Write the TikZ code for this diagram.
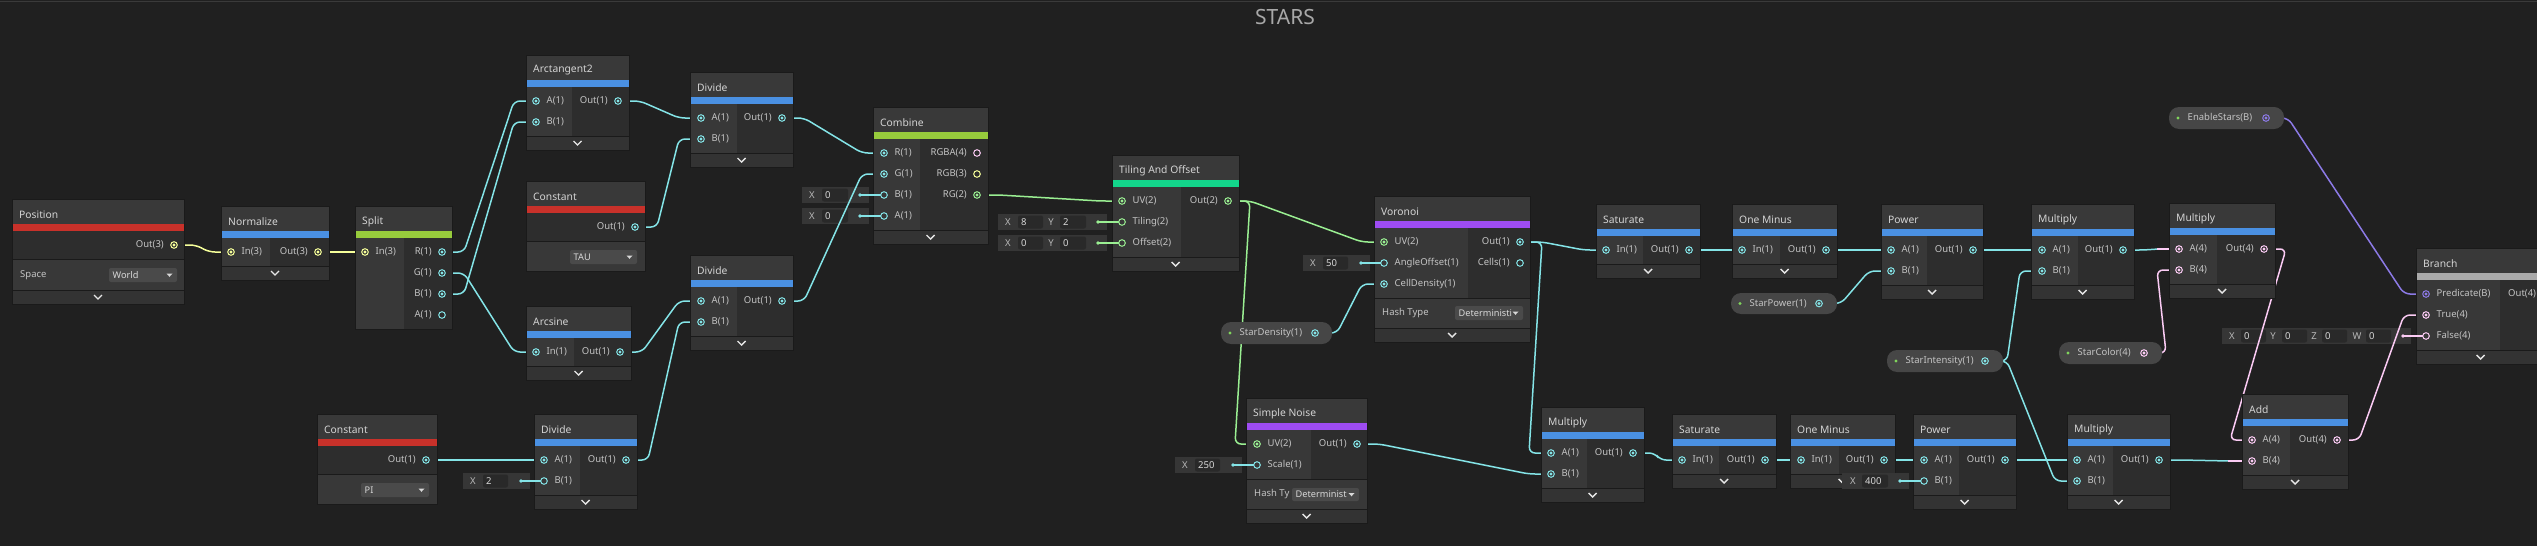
\documentclass[tikz,border=0pt]{standalone}
\usepackage{fontspec}
\setmainfont{Noto Sans}
\usetikzlibrary{calc}
\definecolor{bgc}{HTML}{202020}
\definecolor{topl}{HTML}{3A3A3A}
\definecolor{hdrc}{HTML}{393939}
\definecolor{inc}{HTML}{383838}
\definecolor{outc}{HTML}{2D2D2D}
\definecolor{setc}{HTML}{383838}
\definecolor{chevc}{HTML}{333333}
\definecolor{edgec}{HTML}{1A1A1A}
\definecolor{chevg}{HTML}{E6E6E6}
\definecolor{lblc}{HTML}{C4C4C4}
\definecolor{ttlc}{HTML}{D4D4D4}
\definecolor{starc}{HTML}{A8A8A8}
\definecolor{redb}{HTML}{C8312A}
\definecolor{blueb}{HTML}{4A90E2}
\definecolor{greenb}{HTML}{97CB3C}
\definecolor{tealb}{HTML}{13D58B}
\definecolor{purpb}{HTML}{9E4CF2}
\definecolor{grayb}{HTML}{AAAAAA}
\definecolor{cyanw}{HTML}{84E4E7}
\definecolor{greenw}{HTML}{9AEF92}
\definecolor{yelw}{HTML}{F6FF9A}
\definecolor{pinkw}{HTML}{FBCBF4}
\definecolor{purplew}{HTML}{8C7AE6}
\definecolor{pillc}{HTML}{464646}
\definecolor{dotg}{HTML}{80D45C}
\definecolor{fieldc}{HTML}{363636}
\definecolor{boxc}{HTML}{292929}
\definecolor{dropc}{HTML}{4A4A4A}
\definecolor{dropt}{HTML}{D8D8D8}
\definecolor{flblc}{HTML}{B8B8B8}
\pgfdeclarelayer{bgl}
\pgfdeclarelayer{fl}
\pgfdeclarelayer{wl}
\pgfdeclarelayer{tl}
\pgfsetlayers{bgl,fl,wl,main,tl}
\newcount\ssN
\tikzset{
  wire/.style={line width=1.5pt, rounded corners=6pt},
  plbl/.style={text=lblc, font=\fontsize{9.5}{11}\selectfont, inner sep=0pt},
  ttl/.style={text=ttlc, font=\fontsize{10.3}{12}\selectfont, inner sep=0pt},
  flbl/.style={text=flblc, font=\fontsize{9.5}{11}\selectfont, inner sep=0pt},
  fval/.style={text=dropt, font=\fontsize{9.5}{11}\selectfont, inner sep=0pt},
  nodeline/.style={draw=edgec, line width=0.8pt},
  sepline/.style={draw=edgec, line width=0.6pt},
  chevline/.style={draw=chevg, line width=1.4pt},
}
% title, bar colour, left, right, top, divider x, rows, settings height, chevron height
\newcommand\ssNode[9]{%
  \pgfmathsetmacro\ssPB{#5+39+21*#7}%
  \pgfmathsetmacro\ssSB{\ssPB+#8}%
  \pgfmathsetmacro\ssCB{\ssSB+#9}%
  \pgfmathsetmacro\ssMX{(#3+#4)/2}%
  \pgfmathsetmacro\ssMY{(\ssSB+\ssCB)/2}%
  \fill[hdrc] (#3,#5) rectangle (#4,#5+24.5);
  \fill[#2] (#3,#5+24.5) rectangle (#4,#5+31.5);
  \fill[outc] (#3,#5+31.5) rectangle (#4,\ssPB);
  \ifdim #6pt>0pt \fill[inc] (#3,#5+31.5) rectangle (#6,\ssPB);\fi
  \ifdim #8pt>0pt \fill[setc] (#3,\ssPB) rectangle (#4,\ssSB);
     \draw[sepline] (#3,\ssPB) -- (#4,\ssPB);\fi
  \ifdim #9pt>0pt \fill[chevc] (#3,\ssSB) rectangle (#4,\ssCB);
     \draw[sepline] (#3,\ssSB) -- (#4,\ssSB);
     \draw[chevline] (\ssMX-4,\ssMY-2) -- (\ssMX,\ssMY+2) -- (\ssMX+4,\ssMY-2);\fi
  \draw[nodeline] (#3,#5) rectangle (#4,\ssCB);
  \global\advance\ssN by 1
  \node[ttl,anchor=west] (title\the\ssN) at (#3+7,#5+15.5) {#1};
}
\newcommand\ssPort[4]{%
  \draw[#3,line width=1pt] (#1,#2) circle[radius=3.3pt];
  \ifx c#4\fill[#3] (#1,#2) circle[radius=1.6pt];\fi}
\newcommand\ssIn[6]{%
  \coordinate (#1) at (#2,#3);
  \node[plbl,anchor=west] (#1L) at (#2+10.5,#3) {#5};
  \ssPort{#2}{#3}{#4}{#6}}
\newcommand\ssOut[6]{%
  \coordinate (#1) at (#2,#3);
  \node[plbl,anchor=east] (#1L) at (#2-10,#3) {#5};
  \ssPort{#2}{#3}{#4}{#6}}
% name, x1, y1, x2, y2, text, port x, colour
\newcommand\ssPill[8]{%
  \fill[pillc, rounded corners=10pt] (#2,#3) rectangle (#4,#5);
  \pgfmathsetmacro\ssPY{(#3+#5)/2}%
  \fill[dotg] (#2+9,\ssPY) circle[radius=1.7pt];
  \node[plbl,anchor=west] (#1L) at (#2+18.5,\ssPY) {#6};
  \coordinate (#1) at (#7,\ssPY);
  \ssPort{#7}{\ssPY}{#8}{c}}
\newcommand\ssField[3]{\fill[fieldc] (#1,#2-8) rectangle (#3,#2+8);}
% label x, box x1, box x2, y, label, value
\newcommand\ssEnt[6]{%
  \global\advance\ssN by 1
  \node[flbl] (fl\the\ssN) at (#1,#4) {#5};
  \fill[boxc, rounded corners=2pt] (#2,#4-6.5) rectangle (#3,#4+6.5);
  \node[fval,anchor=west] (fv\the\ssN) at (#2+3,#4) {#6};}
% dot x, y, colour, port
\newcommand\ssDot[4]{%
  \fill[#3] (#1,#2) circle[radius=1.8pt];
  \draw[#3,line width=1.6pt] (#1,#2) -- ($(#4)+(-3.3,0)$);}
\newcommand\ssDrop[5]{%
  \fill[dropc,rounded corners=2pt] (#1,#2) rectangle (#3,#4);
  \pgfmathsetmacro\ssDY{(#2+#4)/2}%
  \global\advance\ssN by 1
  \node[plbl,anchor=west,text=dropt,font=\fontsize{9.2}{11}\selectfont] (dd\the\ssN) at (#1+3.5,\ssDY) {#5};
  \fill[dropt] (#3-10.5,\ssDY-1.5) -- (#3-4.5,\ssDY-1.5) -- (#3-7.5,\ssDY+1.8) -- cycle;}
\newcommand\ssWire[3]{\draw[wire,#1] (#2) -- ++(22,0) -- ($(#3)+(-22,0)$) -- (#3);}

\begin{document}
\begin{tikzpicture}[x=1pt,y=-1pt]
\useasboundingbox (0,0) rectangle (2537,546);
\begin{pgfonlayer}{bgl}
  \fill[bgc] (0,0) rectangle (2537,546);
  \draw[topl,line width=1.6pt] (0,1.5) -- (2537,1.5);
\end{pgfonlayer}
\node[font=\fontsize{21}{24}\selectfont, text=starc, inner sep=0pt] (stars) at (1285,17) {STARS};

% ---------------- nodes ----------------
\ssNode{Position}{redb}{12}{184}{199}{0}{1}{31}{14}
\ssOut{posOut}{174}{245}{yelw}{Out(3)}{c}
\node[plbl,anchor=west] (posSpace) at (20,275) {Space};
\ssDrop{109}{268}{177}{282}{World}

\ssNode{Normalize}{blueb}{221}{329}{206}{270}{1}{0}{14}
\ssIn{normIn}{231}{252}{yelw}{In(3)}{c}
\ssOut{normOut}{318}{252}{yelw}{Out(3)}{c}

\ssNode{Split}{greenb}{355}{452}{206}{404}{4}{0}{0}
\ssIn{splitIn}{365}{252}{yelw}{In(3)}{c}
\ssOut{splitR}{442}{252}{cyanw}{R(1)}{c}
\ssOut{splitG}{442}{273}{cyanw}{G(1)}{c}
\ssOut{splitB}{442}{294}{cyanw}{B(1)}{c}
\ssOut{splitA}{442}{315}{cyanw}{A(1)}{h}

\ssNode{Constant}{redb}{317}{437}{414}{0}{1}{30}{0}
\ssOut{piOut}{426}{460}{cyanw}{Out(1)}{c}
\ssDrop{361}{483}{429}{497}{PI}

\ssNode{Arctangent2}{blueb}{526}{629}{55}{572}{2}{0}{14}
\ssIn{atanA}{536}{101}{cyanw}{A(1)}{c}
\ssIn{atanB}{536}{122}{cyanw}{B(1)}{c}
\ssOut{atanOut}{618}{101}{cyanw}{Out(1)}{c}

\ssNode{Constant}{redb}{526}{645}{181}{0}{1}{30}{0}
\ssOut{tauOut}{635}{227}{cyanw}{Out(1)}{c}
\ssDrop{570}{250}{637}{264}{TAU}

\ssNode{Arcsine}{blueb}{526}{631}{306}{574}{1}{0}{14}
\ssIn{asinIn}{536}{352}{cyanw}{In(1)}{c}
\ssOut{asinOut}{620}{352}{cyanw}{Out(1)}{c}

\ssNode{Divide}{blueb}{690}{793}{72}{737}{2}{0}{14}
\ssIn{divaA}{701}{118}{cyanw}{A(1)}{c}
\ssIn{divaB}{701}{139}{cyanw}{B(1)}{c}
\ssOut{divaOut}{782}{118}{cyanw}{Out(1)}{c}

\ssNode{Divide}{blueb}{690}{793}{255}{737}{2}{0}{14}
\ssIn{divbA}{701}{301}{cyanw}{A(1)}{c}
\ssIn{divbB}{701}{322}{cyanw}{B(1)}{c}
\ssOut{divbOut}{782}{301}{cyanw}{Out(1)}{c}

\ssNode{Divide}{blueb}{534}{637}{414}{580}{2}{0}{14}
\ssIn{divcA}{544}{460}{cyanw}{A(1)}{c}
\ssIn{divcB}{544}{481}{cyanw}{B(1)}{h}
\ssOut{divcOut}{626}{460}{cyanw}{Out(1)}{c}

\ssNode{Combine}{greenb}{873}{988}{107}{920}{4}{0}{14}
\ssIn{combR}{884}{153}{cyanw}{R(1)}{c}
\ssIn{combG}{884}{174}{cyanw}{G(1)}{c}
\ssIn{combB}{884}{195}{cyanw}{B(1)}{h}
\ssIn{combA}{884}{216}{cyanw}{A(1)}{h}
\ssOut{combRGBA}{977}{153}{pinkw}{RGBA(4)}{h}
\ssOut{combRGB}{977}{174}{yelw}{RGB(3)}{h}
\ssOut{combRG}{977}{195}{greenw}{RG(2)}{c}

\ssNode{Tiling And Offset}{tealb}{1112}{1239}{155}{1181}{3}{0}{14}
\ssIn{tileUV}{1122}{201}{greenw}{UV(2)}{c}
\ssIn{tileT}{1122}{222}{greenw}{Tiling(2)}{h}
\ssIn{tileO}{1122}{243}{greenw}{Offset(2)}{h}
\ssOut{tileOut}{1228}{201}{greenw}{Out(2)}{c}

\ssNode{Voronoi}{purpb}{1374}{1530}{196}{1468}{3}{30}{14}
\ssIn{voroUV}{1384}{242}{greenw}{UV(2)}{c}
\ssIn{voroAO}{1384}{263}{cyanw}{AngleOffset(1)}{h}
\ssIn{voroCD}{1384}{284}{cyanw}{CellDensity(1)}{c}
\ssOut{voroOut}{1520}{242}{cyanw}{Out(1)}{c}
\ssOut{voroCells}{1520}{263}{cyanw}{Cells(1)}{h}
\node[plbl,anchor=west] (voroHash) at (1382,313) {Hash Type};
\ssDrop{1455}{306}{1523}{320}{Deterministi}

\ssNode{Simple Noise}{purpb}{1246}{1367}{398}{1311}{2}{30}{14}
\ssIn{snUV}{1257}{444}{greenw}{UV(2)}{c}
\ssIn{snScale}{1257}{465}{cyanw}{Scale(1)}{h}
\ssOut{snOut}{1357}{444}{cyanw}{Out(1)}{c}
\node[plbl,anchor=west] (snHash) at (1254,494.5) {Hash Ty};
\ssDrop{1292}{488}{1359}{501}{Determinist}

\ssNode{Saturate}{blueb}{1596}{1700}{204}{1643}{1}{0}{14}
\ssIn{sataIn}{1606}{250}{cyanw}{In(1)}{c}
\ssOut{sataOut}{1689}{250}{cyanw}{Out(1)}{c}

\ssNode{One Minus}{blueb}{1732}{1837}{204}{1780}{1}{0}{14}
\ssIn{omaIn}{1742}{250}{cyanw}{In(1)}{c}
\ssOut{omaOut}{1826}{250}{cyanw}{Out(1)}{c}

\ssNode{Power}{blueb}{1881}{1983}{204}{1927}{2}{0}{14}
\ssIn{powaA}{1891}{250}{cyanw}{A(1)}{c}
\ssIn{powaB}{1891}{271}{cyanw}{B(1)}{c}
\ssOut{powaOut}{1973}{250}{cyanw}{Out(1)}{c}

\ssNode{Multiply}{blueb}{2031}{2134}{204}{2078}{2}{0}{14}
\ssIn{mulaA}{2042}{250}{cyanw}{A(1)}{c}
\ssIn{mulaB}{2042}{271}{cyanw}{B(1)}{c}
\ssOut{mulaOut}{2123}{250}{cyanw}{Out(1)}{c}

\ssNode{Multiply}{blueb}{2169}{2275}{203}{2217}{2}{0}{14}
\ssIn{mulcA}{2179}{249}{pinkw}{A(4)}{c}
\ssIn{mulcB}{2179}{270}{pinkw}{B(4)}{c}
\ssOut{mulcOut}{2264}{249}{pinkw}{Out(4)}{c}

\ssNode{Multiply}{blueb}{1541}{1644}{407}{1587}{2}{0}{14}
\ssIn{muldA}{1551}{453}{cyanw}{A(1)}{c}
\ssIn{muldB}{1551}{474}{cyanw}{B(1)}{c}
\ssOut{muldOut}{1633}{453}{cyanw}{Out(1)}{c}

\ssNode{Saturate}{blueb}{1672}{1776}{414}{1719}{1}{0}{14}
\ssIn{satbIn}{1682}{460}{cyanw}{In(1)}{c}
\ssOut{satbOut}{1765}{460}{cyanw}{Out(1)}{c}

\ssNode{One Minus}{blueb}{1790}{1895}{414}{1839}{1}{0}{14}
\ssIn{ombIn}{1801}{460}{cyanw}{In(1)}{c}
\ssOut{ombOut}{1884}{460}{cyanw}{Out(1)}{c}

\ssNode{Power}{blueb}{1913}{2016}{414}{1959}{2}{0}{14}
\ssIn{powbA}{1924}{460}{cyanw}{A(1)}{c}
\ssIn{powbB}{1924}{481}{cyanw}{B(1)}{h}
\ssOut{powbOut}{2005}{460}{cyanw}{Out(1)}{c}

\ssNode{Multiply}{blueb}{2067}{2170}{414}{2113}{2}{0}{14}
\ssIn{mulbA}{2077}{460}{cyanw}{A(1)}{c}
\ssIn{mulbB}{2077}{481}{cyanw}{B(1)}{c}
\ssOut{mulbOut}{2159}{460}{cyanw}{Out(1)}{c}

\ssNode{Add}{blueb}{2242}{2348}{394}{2290}{2}{0}{14}
\ssIn{addA}{2252}{440}{pinkw}{A(4)}{c}
\ssIn{addB}{2252}{461}{pinkw}{B(4)}{c}
\ssOut{addOut}{2337}{440}{pinkw}{Out(4)}{c}

\ssNode{Branch}{grayb}{2416}{2545}{248}{2500}{3}{0}{14}
\ssIn{brPred}{2426}{294}{purplew}{Predicate(B)}{c}
\ssIn{brTrue}{2426}{315}{pinkw}{True(4)}{c}
\ssIn{brFalse}{2426}{336}{pinkw}{False(4)}{h}
\node[plbl,anchor=west] (brOutL) at (2508,294) {Out(4)};

% ---------------- properties ----------------
\ssPill{sdens}{1221}{322}{1332}{344}{StarDensity(1)}{1315}{cyanw}
\ssPill{spow}{1731}{293}{1837}{314}{StarPower(1)}{1819}{cyanw}
\ssPill{sint}{1887}{350}{2003}{372}{StarIntensity(1)}{1985}{cyanw}
\ssPill{scol}{2059}{342}{2162}{364}{StarColor(4)}{2144}{pinkw}
\ssPill{enab}{2169}{107}{2284}{129}{EnableStars(B)}{2266}{purplew}

% ---------------- inline fields ----------------
\begin{pgfonlayer}{fl}
  \ssField{463}{481}{530}
  \ssEnt{473}{483}{508}{481}{X}{2}
  \ssField{802}{195}{869}
  \ssEnt{812}{822}{848}{195}{X}{0}
  \ssField{802}{216}{869}
  \ssEnt{812}{822}{848}{216}{X}{0}
  \ssField{998}{222}{1107}
  \ssEnt{1008}{1018}{1043}{222}{X}{8}
  \ssEnt{1051}{1060}{1086}{222}{Y}{2}
  \ssField{998}{243}{1107}
  \ssEnt{1008}{1018}{1043}{243}{X}{0}
  \ssEnt{1051}{1060}{1086}{243}{Y}{0}
  \ssField{1303}{263}{1370}
  \ssEnt{1313}{1323}{1348}{263}{X}{50}
  \ssField{1175}{465}{1242}
  \ssEnt{1185}{1195}{1220}{465}{X}{250}
  \ssField{2222}{336}{2411}
  \ssEnt{2232}{2241}{2266}{336}{X}{0}
  \ssEnt{2273}{2282}{2307}{336}{Y}{0}
  \ssEnt{2314}{2322}{2347}{336}{Z}{0}
  \ssEnt{2357}{2366}{2391}{336}{W}{0}
\end{pgfonlayer}
\begin{pgfonlayer}{tl}
  \ssField{1842}{481}{1909}
  \ssEnt{1853}{1862}{1888}{481}{X}{400}
  \ssDot{521}{481}{cyanw}{divcB}
  \ssDot{860}{195}{cyanw}{combB}
  \ssDot{860}{216}{cyanw}{combA}
  \ssDot{1098}{222}{greenw}{tileT}
  \ssDot{1098}{243}{greenw}{tileO}
  \ssDot{1361}{263}{cyanw}{voroAO}
  \ssDot{1233}{465}{cyanw}{snScale}
  \ssDot{1900}{481}{cyanw}{powbB}
  \ssDot{2403}{336}{pinkw}{brFalse}
\end{pgfonlayer}

% ---------------- wires ----------------
\begin{pgfonlayer}{wl}
  \ssWire{yelw}{posOut}{normIn}
  \ssWire{yelw}{normOut}{splitIn}
  \ssWire{cyanw}{splitR}{atanA}
  \ssWire{cyanw}{splitB}{atanB}
  \ssWire{cyanw}{splitG}{asinIn}
  \ssWire{cyanw}{atanOut}{divaA}
  \ssWire{cyanw}{tauOut}{divaB}
  \ssWire{cyanw}{divaOut}{combR}
  \ssWire{cyanw}{asinOut}{divbA}
  \ssWire{cyanw}{divcOut}{divbB}
  \ssWire{cyanw}{divbOut}{combG}
  \ssWire{cyanw}{piOut}{divcA}
  \ssWire{greenw}{combRG}{tileUV}
  \ssWire{greenw}{tileOut}{voroUV}
  \ssWire{greenw}{tileOut}{snUV}
  \ssWire{cyanw}{sdens}{voroCD}
  \ssWire{cyanw}{voroOut}{sataIn}
  \ssWire{cyanw}{voroOut}{muldA}
  \ssWire{cyanw}{snOut}{muldB}
  \ssWire{cyanw}{sataOut}{omaIn}
  \ssWire{cyanw}{omaOut}{powaA}
  \ssWire{cyanw}{spow}{powaB}
  \ssWire{cyanw}{powaOut}{mulaA}
  \ssWire{cyanw}{sint}{mulaB}
  \ssWire{cyanw}{mulaOut}{mulcA}
  \draw[wire,pinkw] ($(mulcA)+(-22,0)$) -- (mulcA);
  \ssWire{pinkw}{scol}{mulcB}
  \ssWire{cyanw}{muldOut}{satbIn}
  \ssWire{cyanw}{satbOut}{ombIn}
  \ssWire{cyanw}{ombOut}{powbA}
  \ssWire{cyanw}{powbOut}{mulbA}
  \ssWire{cyanw}{sint}{mulbB}
  \ssWire{cyanw}{mulbOut}{addB}
  \draw[wire,pinkw] ($(addB)+(-24,0)$) -- (addB);
  \ssWire{pinkw}{mulcOut}{addA}
  \ssWire{pinkw}{addOut}{brTrue}
  \ssWire{purplew}{enab}{brPred}
\end{pgfonlayer}
\end{tikzpicture}
\end{document}
